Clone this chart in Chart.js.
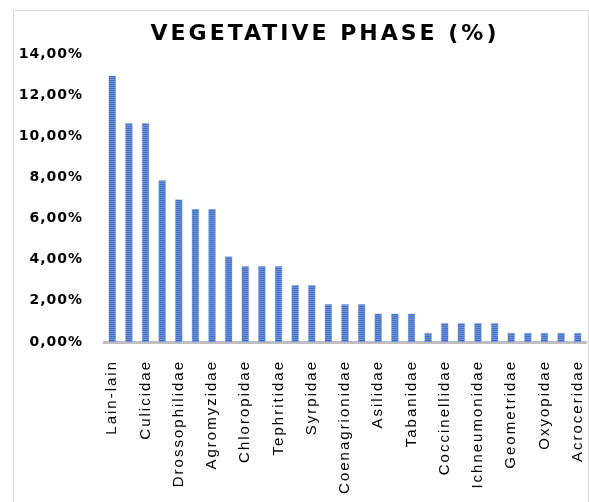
<!DOCTYPE html>
<html>
<head>
<meta charset="utf-8">
<script src="https://cdn.jsdelivr.net/npm/chart.js@4.4.1/dist/chart.umd.min.js"></script>
<style>
  html, body { margin: 0; padding: 0; background: #ffffff; }
  #wrap { width: 589px; height: 502px; }
</style>
</head>
<body>
<div id="wrap"><canvas id="chart" width="589" height="502"></canvas></div>
<script>
// Families on the category axis; only every other name is printed under the axis.
const families = [
  'Lain-lain', '', 'Culicidae', '', 'Drossophilidae', '', 'Agromyzidae', '',
  'Chloropidae', '', 'Tephritidae', '', 'Syrpidae', '', 'Coenagrionidae', '',
  'Asilidae', '', 'Tabanidae', '', 'Coccinellidae', '', 'Ichneumonidae', '',
  'Geometridae', '', 'Oxyopidae', '', 'Acroceridae'
];

// Share of individuals per family during the vegetative phase (%).
const sharePercent = [
  12.96, 10.65, 10.65, 7.87, 6.94, 6.48, 6.48, 4.17, 3.70, 3.70,
  3.70, 2.78, 2.78, 1.85, 1.85, 1.85, 1.39, 1.39, 1.39, 0.46,
  0.93, 0.93, 0.93, 0.93, 0.46, 0.46, 0.46, 0.46, 0.46
];

// Value-axis ticks (%).
const yTicks = [0, 2, 4, 6, 8, 10, 12, 14];

const chartTitle = 'VEGETATIVE PHASE (%)';

// Category axis whose labels are drawn with a little letter spacing.
class SpacedCategoryScale extends Chart.CategoryScale {
  drawLabels(chartArea) {
    const ctx = this.ctx;
    ctx.save();
    ctx.letterSpacing = '2px';
    super.drawLabels(chartArea);
    ctx.restore();
  }
}
SpacedCategoryScale.id = 'spacedCategory';
SpacedCategoryScale.defaults = Chart.CategoryScale.defaults;

class SpacedLinearScale extends Chart.LinearScale {
  drawLabels(chartArea) {
    const ctx = this.ctx;
    ctx.save();
    ctx.letterSpacing = '1px';
    super.drawLabels(chartArea);
    ctx.restore();
  }
}
SpacedLinearScale.id = 'spacedLinear';
SpacedLinearScale.defaults = Chart.LinearScale.defaults;

Chart.register(SpacedCategoryScale, SpacedLinearScale);

// Striped blue fill for the bars.
function stripedFill() {
  const c = document.createElement('canvas');
  c.width = 4; c.height = 2;
  const g = c.getContext('2d');
  g.fillStyle = '#4371c5'; g.fillRect(0, 0, 4, 1);
  g.fillStyle = '#6f92d9'; g.fillRect(0, 1, 4, 1);
  return g.createPattern(c, 'repeat');
}

// White background, light frame and the spaced title.
const framePlugin = {
  id: 'frameAndTitle',
  beforeDraw(chart) {
    const ctx = chart.ctx;
    ctx.save();
    ctx.fillStyle = '#ffffff';
    ctx.fillRect(0, 0, chart.width, chart.height);
    ctx.strokeStyle = '#d9d9d9';
    ctx.lineWidth = 1;
    ctx.strokeRect(13.5, 10.5, 575, 520);
    ctx.restore();
  },
  afterDraw(chart) {
    const ctx = chart.ctx;
    ctx.save();
    ctx.font = 'bold 22px "DejaVu Sans"';
    ctx.letterSpacing = '3px';
    ctx.fillStyle = '#000000';
    ctx.textAlign = 'left';
    ctx.textBaseline = 'alphabetic';
    const w = ctx.measureText(chartTitle).width;
    ctx.fillText(chartTitle, 325 - w / 2, 39.5);
    ctx.restore();
  }
};

const ctx = document.getElementById('chart').getContext('2d');
new Chart(ctx, {
  type: 'bar',
  data: {
    labels: families,
    datasets: [{
      data: sharePercent,
      backgroundColor: stripedFill(),
      borderColor: 'rgba(140,170,228,0.8)',
      borderWidth: 0.6,
      barPercentage: 0.47,
      categoryPercentage: 1.0
    }]
  },
  options: {
    responsive: false,
    animation: false,
    devicePixelRatio: 1,
    layout: { padding: { top: 54, right: 3, left: 0, bottom: 0 } },
    plugins: {
      legend: { display: false },
      title: { display: false },
      tooltip: { enabled: false }
    },
    scales: {
      x: {
        type: 'spacedCategory',
        grid: { display: false, drawTicks: false },
        border: { display: true, color: '#bfbfbf', width: 3 },
        ticks: {
          autoSkip: false,
          minRotation: 90,
          maxRotation: 90,
          padding: 18,
          color: '#000000',
          font: { family: '"Liberation Sans", Arial, sans-serif', size: 15 }
        },
        afterFit(scale) {
          scale.height = 160;
          scale.paddingLeft = 0;
          scale.paddingRight = 0;
        }
      },
      y: {
        type: 'spacedLinear',
        min: yTicks[0],
        max: yTicks[yTicks.length - 1],
        grid: { display: false, drawTicks: false },
        border: { display: false },
        afterBuildTicks(scale) { scale.ticks = yTicks.map(v => ({ value: v })); },
        ticks: {
          padding: 21,
          color: '#000000',
          font: { family: '"DejaVu Sans", sans-serif', size: 14, weight: 'bold' },
          callback: v => v.toFixed(2).replace('.', ',') + '%'
        },
        afterFit(scale) {
          scale.width = 104;
          scale.paddingTop = 0;
          scale.paddingBottom = 0;
        }
      }
    }
  },
  plugins: [framePlugin]
});
</script>
</body>
</html>
